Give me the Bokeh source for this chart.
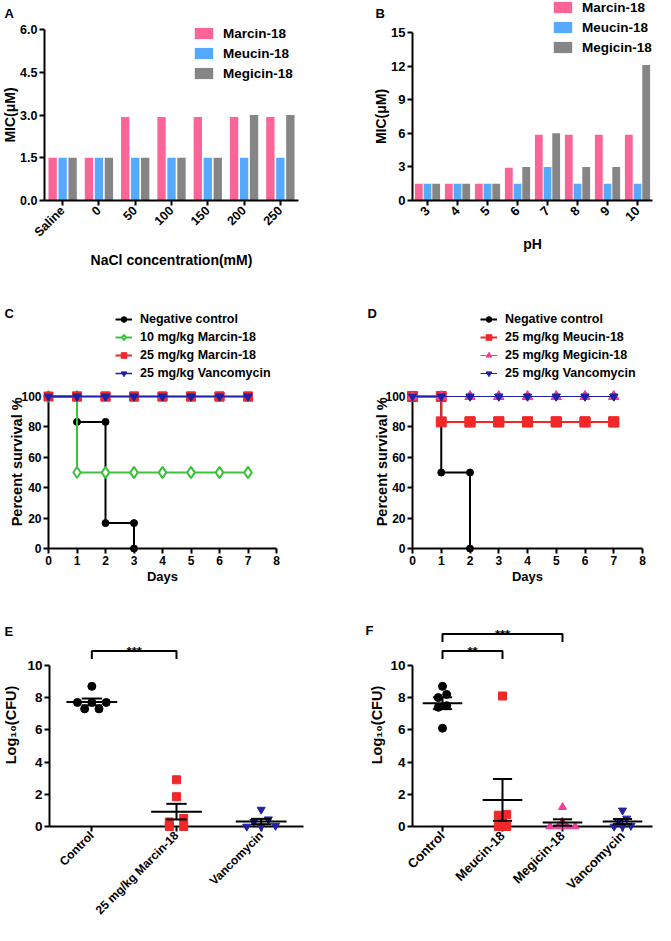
import math
import numpy as np
from bokeh.plotting import figure
from bokeh.models import (ColumnDataSource, FactorRange, Range1d, Legend, LegendItem,
                          FixedTicker, NumeralTickFormatter)
from bokeh.layouts import column, row
from bokeh.transform import dodge
from bokeh.embed import file_html
from bokeh.resources import INLINE
from bokeh.core.properties import value

FONT = "Liberation Sans"

# ---------------- data ----------------
# Panel A: MIC vs NaCl concentration
nacl_labels = ["Saline", "0", "50", "100", "150", "200", "250"]
a_marcin = [1.5, 1.5, 2.93, 2.93, 2.93, 2.93, 2.93]
a_meucin = [1.5, 1.5, 1.5, 1.5, 1.5, 1.5, 1.5]
a_megicin = [1.5, 1.5, 1.5, 1.5, 1.5, 3.0, 3.0]
a_yticks = [0, 1.5, 3.0, 4.5, 6.0]

# Panel B: MIC vs pH
ph_labels = ["3", "4", "5", "6", "7", "8", "9", "10"]
b_marcin = [1.5, 1.5, 1.5, 2.93, 5.86, 5.86, 5.86, 5.86]
b_meucin = [1.5, 1.5, 1.5, 1.5, 3.0, 1.5, 1.5, 1.5]
b_megicin = [1.5, 1.5, 1.5, 3.0, 6.0, 3.0, 3.0, 12.1]
b_yticks = [0, 3, 6, 9, 12, 15]

# Panel C: survival
c_days_nc = [0, 1, 2, 3]
c_surv_nc = [100, 83.3, 16.7, 0]
c_days = [0, 1, 2, 3, 4, 5, 6, 7]
c_surv_mar10 = [100, 50, 50, 50, 50, 50, 50, 50]
c_surv_mar25 = [100, 100, 100, 100, 100, 100, 100, 100]
c_surv_van = [100, 100, 100, 100, 100, 100, 100, 100]

# Panel D: survival
d_days_nc = [0, 1, 2]
d_surv_nc = [100, 50, 0]
d_days = [0, 1, 2, 3, 4, 5, 6, 7]
d_surv_meu = [100, 83.3, 83.3, 83.3, 83.3, 83.3, 83.3, 83.3]
d_surv_meg = [100, 100, 100, 100, 100, 100, 100, 100]
d_surv_van = [100, 100, 100, 100, 100, 100, 100, 100]
days_ticks = [0, 1, 2, 3, 4, 5, 6, 7, 8]
surv_ticks = [0, 20, 40, 60, 80, 100]

# Panel E: bacterial load
e_groups = ["Control", "25 mg/kg Marcin-18", "Vancomycin"]
e_control = [8.7, 7.7, 7.7, 7.7, 7.3, 7.3]
e_marcin = [2.9, 1.85, 0.5, 0.28, 0.0, 0.0]
e_vanco = [1.05, 0.45, 0.3, 0.05, 0.0, 0.0]
e_sig = [(0, 1, "***")]

# Panel F: bacterial load
f_groups = ["Control", "Meucin-18", "Megicin-18", "Vancomycin"]
f_control = [8.7, 8.2, 8.0, 7.5, 7.4, 6.1]
f_meucin = [8.1, 0.75, 0.7, 0.35, 0.0, 0.0]
f_megicin = [1.2, 0.3, 0.0, 0.0, 0.0, 0.0]
f_vanco = [1.0, 0.5, 0.3, 0.05, 0.0, 0.0]
f_sig = [(0, 1, "**"), (0, 2, "***")]
cfu_ticks = [0, 2, 4, 6, 8, 10]

# ---------------- styles ----------------
PINK = "#FA6496"
BLUE_BAR = "#55AAFF"
GRAY = "#858585"
GREEN = "#3CC23C"
RED = "#F02828"
NAVY = "#1E22A6"
MAGENTA = "#F23C9C"


def base_fig(w, h, left, right, top, bottom, **kw):
    p = figure(width=w, height=h, output_backend="svg", toolbar_location=None,
               min_border_left=left, min_border_right=right,
               min_border_top=top, min_border_bottom=bottom, **kw)
    p.outline_line_color = None
    p.grid.visible = False
    p.background_fill_color = "white"
    p.border_fill_color = "white"
    return p


def extended_top(top_val, frame_h, top_px):
    """Range end so that the axis top value sits top_px below the frame top
    (the space above holds the legend, inside the frame)."""
    return top_val * frame_h / (frame_h - top_px)


def style_axis(ax, tick_fs, title_fs, title_standoff, label_standoff=2):
    ax.axis_line_width = 2
    ax.axis_line_color = "black"
    ax.major_tick_line_width = 2
    ax.major_tick_line_color = "black"
    ax.major_tick_in = 0
    ax.major_tick_out = 5
    ax.minor_tick_line_color = None
    ax.major_label_text_font = FONT
    ax.major_label_text_font_style = "bold"
    ax.major_label_text_font_size = tick_fs
    ax.major_label_text_color = "black"
    ax.major_label_standoff = label_standoff
    ax.axis_label_text_font = FONT
    ax.axis_label_text_font_style = "bold"
    ax.axis_label_text_font_size = title_fs
    ax.axis_label_text_color = "black"
    ax.axis_label_standoff = title_standoff


def screen_text(p, x, y, text, xo, yo, size, align="left", baseline="top", angle=0.0):
    p.text(x=[x], y=[y], text=[text], x_offset=xo, y_offset=yo, angle=angle,
           text_font=value(FONT), text_font_style="bold", text_font_size=size,
           text_align=align, text_baseline=baseline, text_color="black", level="overlay")


def make_legend(items, loc, fs, gw, gh, lh, spacing, standoff):
    return Legend(items=items, location=loc, orientation="vertical",
                  border_line_color=None, background_fill_alpha=0,
                  padding=0, margin=0, spacing=spacing,
                  glyph_width=gw, glyph_height=gh, label_height=lh,
                  label_standoff=standoff, label_text_font=FONT,
                  label_text_font_style="bold", label_text_font_size=fs,
                  label_text_color="black")


# ---------------- bar panels ----------------
def bar_panel(w, h, borders, cats, series, ymax, top_px, yticks, fmt, xtitle, ytitle,
              off, bw, tick_fs, x_std, ytitle_x, leg_loc, letter, letter_xo):
    left, right, top, bottom = borders
    frame_h = h - top - bottom
    yend = extended_top(ymax, frame_h, top_px)
    p = base_fig(w, h, *borders, x_range=FactorRange(factors=cats),
                 y_range=Range1d(0, yend))
    src = ColumnDataSource(dict(cat=cats, s0=series[0][1], s1=series[1][1], s2=series[2][1]))
    items = []
    for k, (name, _, col) in enumerate(series):
        r = p.vbar(x=dodge("cat", (k - 1) * off, range=p.x_range), top="s%d" % k,
                   width=bw, source=src, fill_color=col, line_color=None)
        items.append(LegendItem(label=name, renderers=[r]))
    style_axis(p.xaxis[0], tick_fs, "14px", x_std, 3)
    style_axis(p.yaxis[0], tick_fs, "14px", 0, 2)
    p.xaxis.major_label_orientation = math.pi / 4
    p.xaxis.axis_label = xtitle
    p.yaxis.ticker = FixedTicker(ticks=yticks)
    p.yaxis.bounds = (0, ymax)
    if fmt:
        p.yaxis.formatter = NumeralTickFormatter(format=fmt)
    screen_text(p, 0, ymax / 2, ytitle, ytitle_x, 0, "14px", "center", "middle", math.pi / 2)
    screen_text(p, 0, yend, letter, letter_xo, 5, "13px")
    p.add_layout(make_legend(items, leg_loc, "13.5px", 23, 14, 16, 4, 8))
    return p


pA = bar_panel(335, 282, (44, 37, 0, 82), nacl_labels,
               [("Marcin-18", a_marcin, PINK), ("Meucin-18", a_meucin, BLUE_BAR),
                ("Megicin-18", a_megicin, GRAY)],
               6, 29, a_yticks, "0.0", "NaCl concentration(mM)", "MIC(μM)",
               0.275, 0.23, "12.5px", 5, -35, (148, 119), "A", -40)

pB = bar_panel(320, 282, (77, 3, 0, 82), ph_labels,
               [("Marcin-18", b_marcin, PINK), ("Meucin-18", b_meucin, BLUE_BAR),
                ("Megicin-18", b_megicin, GRAY)],
               15, 32, b_yticks, None, "pH", "MIC(μM)",
               0.29, 0.26, "13px", 8, -32, (139, 145), "B", -37)


# ---------------- survival panels ----------------
def staircase(days, surv):
    xs, ys = [days[0]], [surv[0]]
    for i in range(1, len(days)):
        xs += [days[i], days[i]]
        ys += [surv[i - 1], surv[i]]
    return xs, ys


def survival_panel(w, h, borders, series, leg_loc, ytitle_x, letter, letter_xo):
    left, right, top, bottom = borders
    frame_h = h - top - bottom
    yend = extended_top(100, frame_h, 90)
    p = base_fig(w, h, *borders, x_range=Range1d(0, 8), y_range=Range1d(0, yend))
    items = []
    for days, surv, label, col, mk, sz, fill, lw, mlw in series:
        xs, ys = staircase(days, surv)
        lr = p.line(xs, ys, line_color=col, line_width=lw, level="overlay")
        sr = p.scatter(xs, ys, marker=mk, size=sz, fill_color=fill, line_color=col,
                       line_width=mlw, level="overlay")
        items.append(LegendItem(label=label, renderers=[lr, sr]))
    style_axis(p.xaxis[0], "12px", "13px", 1, 2)
    style_axis(p.yaxis[0], "12px", "14.5px", 0, 2)
    p.xaxis.ticker = FixedTicker(ticks=days_ticks)
    p.yaxis.ticker = FixedTicker(ticks=surv_ticks)
    p.yaxis.bounds = (0, 100)
    p.xaxis.axis_label = "Days"
    screen_text(p, 0, 57, "Percent survival %", ytitle_x, 0, "14.5px", "center", "middle",
                math.pi / 2)
    screen_text(p, 0, yend, letter, letter_xo, -1, "13px")
    p.add_layout(make_legend(items, leg_loc, "12.5px", 17, 14, 15, 3, 8))
    return p


pC = survival_panel(335, 308, (48, 59, 24, 42), [
    (c_days_nc, c_surv_nc, "Negative control", "black", "circle", 7, "black", 2, 1),
    (c_days, c_surv_mar10, "10 mg/kg Marcin-18", GREEN, "diamond", 11, "white", 2, 2),
    (c_days, c_surv_mar25, "25 mg/kg Marcin-18", RED, "square", 9, RED, 2, 1),
    (c_days, c_surv_van, "25 mg/kg Vancomycin", NAVY, "inverted_triangle", 8, NAVY, 1.5, 1),
], (67, 168), -32, "C", -44)

pD = survival_panel(320, 308, (77, 13, 24, 42), [
    (d_days_nc, d_surv_nc, "Negative control", "black", "circle", 7, "black", 2, 1),
    (d_days, d_surv_meu, "25 mg/kg Meucin-18", RED, "square", 10, RED, 2, 1),
    (d_days, d_surv_meg, "25 mg/kg Megicin-18", MAGENTA, "triangle", 10, MAGENTA, 1, 1),
    (d_days, d_surv_van, "25 mg/kg Vancomycin", NAVY, "inverted_triangle", 8, NAVY, 1, 1),
], (68, 168), -31, "D", -45)


# ---------------- dot-plot panels ----------------
def beeswarm(vals, step, thr):
    order = np.argsort(-np.asarray(vals), kind="stable")
    offs = np.zeros(len(vals))
    clusters = []
    for idx in order:
        if clusters and abs(vals[clusters[-1][0]] - vals[idx]) <= thr:
            clusters[-1].append(idx)
        else:
            clusters.append([idx])
    for cl in clusters:
        n = len(cl)
        for k, idx in enumerate(cl):
            offs[idx] = ((n - 1) / 2 - k) * step
    return offs


def dot_panel(w, h, borders, groups, data, styles, sig, step, mean_hw, cap_hw,
              xfs, y_std, ymax, letter, letter_xo, letter_yo):
    n = len(groups)
    p = base_fig(w, h, *borders, x_range=Range1d(-0.5, n - 0.5), y_range=Range1d(0, ymax))
    for i, (vals, (mk, col, sz)) in enumerate(zip(data, styles)):
        v = np.asarray(vals, float)
        offs = beeswarm(v, step, 0.25)
        p.scatter(i + offs, v, marker=mk, size=sz, fill_color=col, line_color=col,
                  level="overlay")
    idx = np.arange(n, dtype=float)
    means = np.array([np.mean(v) for v in data])
    sems = np.array([np.std(v, ddof=1) / math.sqrt(len(v)) for v in data])
    seg = dict(line_color="black", line_width=2, level="overlay")
    p.segment(x0=idx - mean_hw, x1=idx + mean_hw, y0=means, y1=means, **seg)
    p.segment(x0=idx - cap_hw, x1=idx + cap_hw, y0=means + sems, y1=means + sems, **seg)
    p.segment(x0=idx - cap_hw, x1=idx + cap_hw, y0=means - sems, y1=means - sems, **seg)
    p.segment(x0=idx, x1=idx, y0=means - sems, y1=means + sems, **seg)
    for k, (i, j, s) in enumerate(sig):
        yl = 10.9 + k * 1.05
        p.line([i, i, j, j], [yl - 0.5, yl, yl, yl - 0.5], line_color="black", line_width=2)
        p.text(x=[(i + j) / 2], y=[yl - 0.05], text=[s], text_align="center",
               text_baseline="alphabetic", text_font=value(FONT),
               text_font_size="13px", text_font_style="bold", text_color="black")
    style_axis(p.xaxis[0], xfs, "14px", 2, 2)
    style_axis(p.yaxis[0], "13.5px", "14.5px", y_std, 2)
    p.xaxis.ticker = FixedTicker(ticks=list(range(n)))
    p.xaxis.major_label_overrides = {i: g for i, g in enumerate(groups)}
    p.xaxis.major_label_orientation = math.pi / 4
    p.yaxis.ticker = FixedTicker(ticks=cfu_ticks)
    p.yaxis.bounds = (0, 10)
    p.yaxis.axis_label = "Log₁₀(CFU)"
    screen_text(p, -0.5, ymax, letter, letter_xo, letter_yo, "13px")
    return p


pE = dot_panel(335, 335, (49, 32, 33, 97), e_groups, [e_control, e_marcin, e_vanco],
               [("circle", "black", 8), ("square", RED, 8), ("inverted_triangle", NAVY, 8)],
               e_sig, 0.17, 0.3, 0.12, "12px", 5, 12.6, "E", -45, 0)

pF = dot_panel(320, 335, (77, 3, 33, 97), f_groups,
               [f_control, f_meucin, f_megicin, f_vanco],
               [("circle", "black", 8), ("square", RED, 8), ("triangle", MAGENTA, 8),
                ("inverted_triangle", NAVY, 8)],
               f_sig, 0.14, 0.33, 0.16, "13px", 2, 12.6, "F", -47, -1)

layout = column(row(pA, pB), row(pC, pD), row(pE, pF))

open("out.html", "w").write(file_html(layout, INLINE))
